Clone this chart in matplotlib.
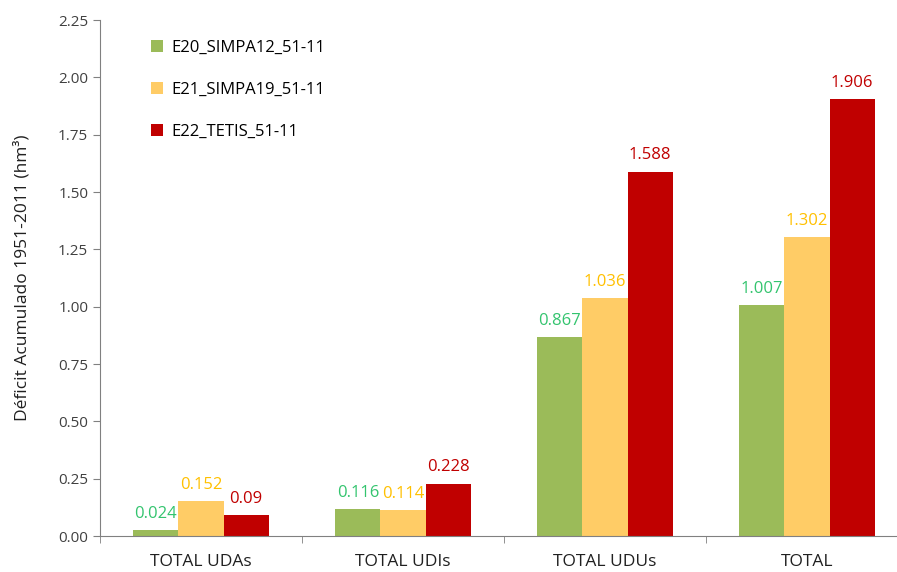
import numpy as np
import matplotlib.pyplot as plt

# datos
categorias = ['TOTAL UDAs', 'TOTAL UDIs', 'TOTAL UDUs', 'TOTAL']
series = ['E20_SIMPA12_51-11', 'E21_SIMPA19_51-11', 'E22_TETIS_51-11']
e20 = [0.024, 0.116, 0.867, 1.007]
e21 = [0.152, 0.114, 1.036, 1.302]
e22 = [0.09, 0.228, 1.588, 1.906]
etiquetas = [['0.024', '0.116', '0.867', '1.007'],
             ['0.152', '0.114', '1.036', '1.302'],
             ['0.09', '0.228', '1.588', '1.906']]

colores_barra = ['#9BBB59', '#FFCC66', '#C00000']
colores_texto = ['#33C46E', '#FFC000', '#C00000']

plt.rcParams['font.family'] = ['Open Sans', 'DejaVu Sans']

fig = plt.figure(figsize=(8.97, 5.72), dpi=100)
ax = fig.add_axes([100/897, 36/572, 808/897, 516/572])

x = np.arange(len(categorias))
w = 0.223
for i, vals in enumerate([e20, e21, e22]):
    xs = x + (i - 1) * w
    ax.bar(xs, vals, w, color=colores_barra[i], label=series[i], zorder=2)
    for xi, v, t in zip(xs, vals, etiquetas[i]):
        ax.annotate(t, (xi, v), xytext=(0, 6), textcoords='offset points',
                    ha='center', va='bottom', color=colores_texto[i], fontsize=12)

ax.set_xlim(-0.5, 3.5)
ax.set_ylim(0, 2.25)
ax.set_yticks(np.arange(0, 2.26, 0.25))
ax.set_yticklabels(['%.2f' % v for v in np.arange(0, 2.26, 0.25)])
ax.set_xticks(x)
ax.set_xticklabels(categorias)
ax.set_xticks([-0.5, 0.5, 1.5, 2.5, 3.5], minor=True)
ax.tick_params(axis='x', which='major', length=0, pad=13, labelsize=12.5)
ax.tick_params(axis='x', which='minor', length=5, color='#808080', direction='out')
ax.tick_params(axis='y', length=5, color='#808080', labelsize=11, labelcolor='#404040')
ax.tick_params(axis='x', labelcolor='#202020')
ax.set_ylabel('Déficit Acumulado 1951-2011 (hm³)', fontsize=12.5, color='#202020', labelpad=20)

for s in ['top', 'right']:
    ax.spines[s].set_visible(False)
for s in ['left', 'bottom']:
    ax.spines[s].set_color('#808080')

ax.legend(loc='upper left', bbox_to_anchor=(0.045, 0.99), frameon=False,
          fontsize=12, handlelength=0.7, handleheight=0.7, handletextpad=0.5,
          labelspacing=1.55)

plt.savefig('out.png', dpi=100)
